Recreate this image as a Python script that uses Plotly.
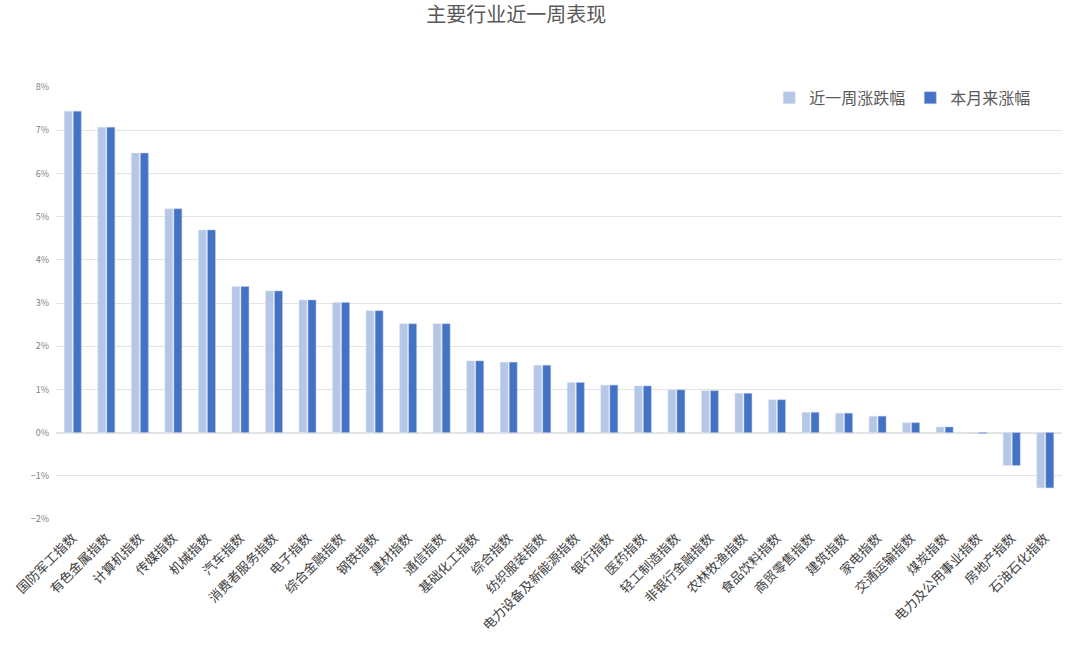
import plotly.graph_objects as go

# industries, sorted by weekly change
industries = ['国防军工指数', '有色金属指数', '计算机指数', '传媒指数', '机械指数',
              '汽车指数', '消费者服务指数', '电子指数', '综合金融指数', '钢铁指数',
              '建材指数', '通信指数', '基础化工指数', '综合指数', '纺织服装指数',
              '电力设备及新能源指数', '银行指数', '医药指数', '轻工制造指数', '非银行金融指数',
              '农林牧渔指数', '食品饮料指数', '商贸零售指数', '建筑指数', '家电指数',
              '交通运输指数', '煤炭指数', '电力及公用事业指数', '房地产指数', '石油石化指数']

# values in percent
week_chg = [7.44, 7.07, 6.47, 5.18, 4.69,
            3.38, 3.28, 3.07, 3.01, 2.82,
            2.52, 2.52, 1.66, 1.63, 1.56,
            1.16, 1.10, 1.08, 0.99, 0.97,
            0.91, 0.76, 0.47, 0.45, 0.38,
            0.23, 0.13, -0.02, -0.76, -1.28]
month_chg = [7.44, 7.07, 6.47, 5.18, 4.69,
             3.38, 3.28, 3.07, 3.01, 2.82,
             2.52, 2.52, 1.66, 1.63, 1.56,
             1.16, 1.10, 1.08, 0.99, 0.97,
             0.91, 0.76, 0.47, 0.45, 0.38,
             0.23, 0.13, -0.02, -0.76, -1.28]

font_cn = 'Noto Sans CJK SC'

fig = go.Figure()
fig.add_trace(go.Bar(x=industries, y=week_chg, name='近一周涨跌幅',
                     marker=dict(color='#B4C7E7', line=dict(color='#DCE5F3', width=0.5))))
fig.add_trace(go.Bar(x=industries, y=month_chg, name='本月来涨幅',
                     marker=dict(color='#4472C4', line=dict(color='#B4C7E7', width=0.5))))

fig.update_layout(
    width=1080, height=667,
    paper_bgcolor='white', plot_bgcolor='white',
    font=dict(family=font_cn, color='#595959'),
    title=dict(text='主要行业近一周表现', x=0.478, xanchor='center', y=0.977, yanchor='middle',
               font=dict(size=20, color='#595959', family=font_cn)),
    margin=dict(l=56, r=18, t=87, b=148, autoexpand=False),
    barmode='group', bargap=0.46, bargroupgap=0.12,
    showlegend=True,
    legend=dict(orientation='h', x=0.709, xanchor='left', y=0.975, yanchor='middle',
                font=dict(size=16, color='#595959', family=font_cn),
                bgcolor='rgba(0,0,0,0)', itemwidth=30, traceorder='normal'),
    xaxis=dict(tickangle=-45, tickfont=dict(size=13, color='#404040', family=font_cn),
               showgrid=False, showline=False, ticks='', automargin=False,
               ticklabelstandoff=8),
    yaxis=dict(range=[-2, 8], dtick=1, ticksuffix='%', showgrid=True,
               gridcolor='#E4E4E4', gridwidth=1, zeroline=True, zerolinecolor='#E4E4E4',
               zerolinewidth=1.5, tickfont=dict(size=9, color='#7F7F7F', family=font_cn),
               showline=False, ticks='', ticklabelstandoff=6, automargin=False),
)

# drop the default 8px page margin so the chart fills the window
fig.write_html('out.html', config={'displayModeBar': False},
               post_script="document.body.style.margin='0';")
